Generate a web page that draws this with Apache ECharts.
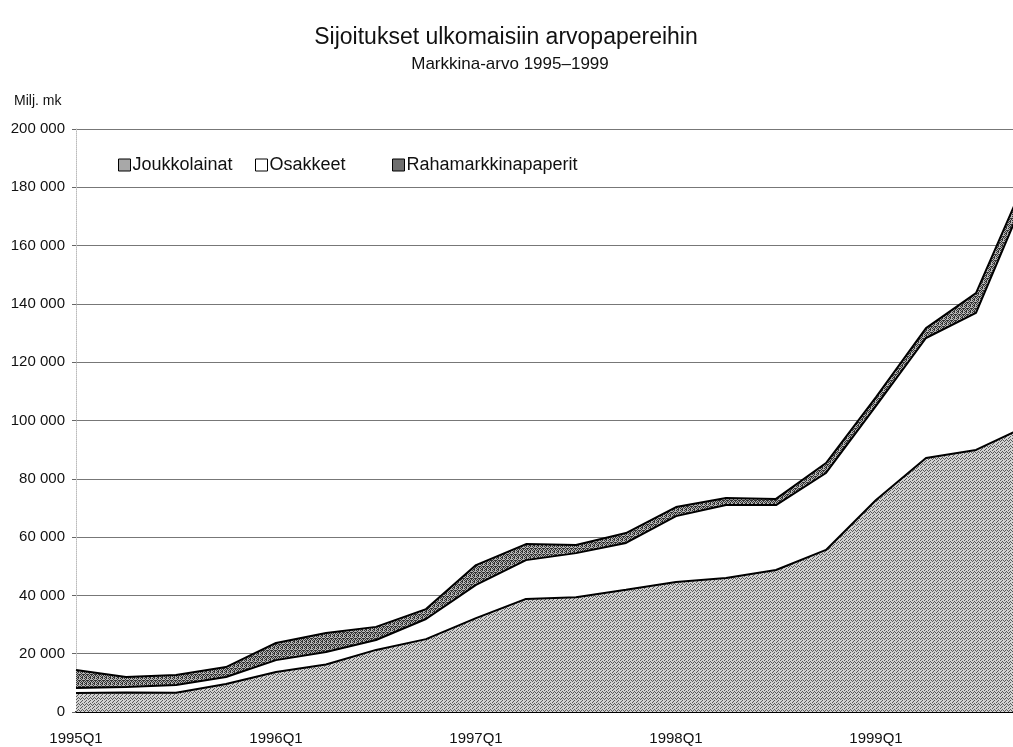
<!DOCTYPE html>
<html>
<head>
<meta charset="utf-8">
<script src="https://cdn.jsdelivr.net/npm/echarts@6/dist/echarts.min.js"></script>
<style>
html,body{margin:0;padding:0;background:#fff;overflow:hidden;}
#chart{width:1026px;height:747px;}
</style>
</head>
<body>
<div id="chart"></div>
<script>
// Data (Milj. mk)
const categories = ['1995Q1','1995Q2','1995Q3','1995Q4','1996Q1','1996Q2','1996Q3','1996Q4',
  '1997Q1','1997Q2','1997Q3','1997Q4','1998Q1','1998Q2','1998Q3','1998Q4',
  '1999Q1','1999Q2','1999Q3','1999Q4'];
const joukkolainat = [6500, 6700, 6600, 9600, 13700, 16300, 21300, 25000, 32200, 38800, 39400, 41900, 44600, 46000, 48700, 55600, 72700, 87100, 89900, 98000];
const osakkeet = [1700, 1900, 2700, 2400, 4100, 4300, 3400, 6900, 11400, 13300, 15100, 16100, 22600, 25000, 22300, 26400, 32300, 41200, 47000, 79500];
const rahamarkkinapaperit = [6200, 3400, 3400, 3400, 5900, 6500, 4500, 3400, 6800, 5500, 2800, 3400, 3100, 2400, 2100, 3400, 3000, 3400, 6800, 5500];
const seriesNames = ['Joukkolainat', 'Osakkeet', 'Rahamarkkinapaperit'];
const yTicks = { min: 0, max: 200000, interval: 20000 };

function makePattern(rows, dark, light) {
  const c = document.createElement('canvas');
  c.width = rows[0].length; c.height = rows.length;
  const ctx = c.getContext('2d');
  rows.forEach((r, y) => {
    for (let x = 0; x < r.length; x++) {
      ctx.fillStyle = r[x] === '1' ? dark : light;
      ctx.fillRect(x, y, 1, 1);
    }
  });
  return c;
}
const lightPat = makePattern(['1000', '0010', '0101', '1000', '0010', '0100'], '#5a5a5a', '#d2d2d2');
const darkPat = makePattern(['1010', '0100', '1011', '0101', '1010', '0110'], '#333333', '#b4b4b4');

const fmt = v => String(v).replace(/\B(?=(\d{3})+(?!\d))/g, ' ');
const FONT = 'Liberation Sans, Arial, sans-serif';

const chart = echarts.init(document.getElementById('chart'));
const lineStyle = { color: '#000', width: 2 };
const legendText = { fontSize: 18, color: '#111', fontFamily: FONT, padding: [0, 0, 0, -3] };
const legendBase = { top: 151, orient: 'horizontal', itemWidth: 12, itemHeight: 12, icon: 'rect', textStyle: legendText };
chart.setOption({
  backgroundColor: '#fff',
  animation: false,
  textStyle: { fontFamily: FONT },
  title: [
    { text: 'Sijoitukset ulkomaisiin arvopapereihin', left: 501, textAlign: 'center', top: 21,
      textStyle: { fontSize: 23, fontWeight: 'normal', color: '#111', fontFamily: FONT } },
    { text: 'Markkina-arvo 1995–1999', left: 505, textAlign: 'center', top: 51,
      textStyle: { fontSize: 17, fontWeight: 'normal', color: '#111', fontFamily: FONT } },
    { text: 'Milj. mk', left: 9, top: 89,
      textStyle: { fontSize: 14, fontWeight: 'normal', color: '#111', fontFamily: FONT } }
  ],
  legend: [
    Object.assign({ left: 113, data: [{ name: seriesNames[0], itemStyle: { color: '#a8a8a8', borderColor: '#000', borderWidth: 1 } }] }, legendBase),
    Object.assign({ left: 250, data: [{ name: seriesNames[1], itemStyle: { color: '#fff', borderColor: '#000', borderWidth: 1 } }] }, legendBase),
    Object.assign({ left: 387, data: [{ name: seriesNames[2], itemStyle: { color: '#6e6e6e', borderColor: '#000', borderWidth: 1 } }] }, legendBase)
  ],
  grid: { left: 76, right: 0, top: 129, bottom: 35, containLabel: false },
  xAxis: {
    type: 'category',
    data: categories,
    boundaryGap: false,
    axisLine: { lineStyle: { color: '#000', width: 2 } },
    axisTick: { show: false },
    axisLabel: { interval: 3, color: '#111', fontSize: 15, margin: 19, fontFamily: FONT },
    splitLine: { show: false }
  },
  yAxis: {
    type: 'value',
    min: yTicks.min, max: yTicks.max, interval: yTicks.interval,
    axisLine: { show: true, lineStyle: { color: '#bbb', width: 1, type: 'dotted' } },
    axisTick: { show: true, length: 4, lineStyle: { color: '#666' } },
    axisLabel: { color: '#111', fontSize: 15, margin: 11, formatter: fmt, fontFamily: FONT },
    splitLine: { show: true, lineStyle: { color: '#777', width: 1 } }
  },
  series: [
    { name: seriesNames[0], type: 'line', stack: 'total', data: joukkolainat,
      symbol: 'none', lineStyle: lineStyle,
      itemStyle: { color: '#a8a8a8' },
      areaStyle: { color: { image: lightPat, repeat: 'repeat' }, opacity: 1 } },
    { name: seriesNames[1], type: 'line', stack: 'total', data: osakkeet,
      symbol: 'none', lineStyle: lineStyle,
      itemStyle: { color: '#fff' },
      areaStyle: { color: '#fff', opacity: 1 } },
    { name: seriesNames[2], type: 'line', stack: 'total', data: rahamarkkinapaperit,
      symbol: 'none', lineStyle: lineStyle,
      itemStyle: { color: '#6e6e6e' },
      areaStyle: { color: { image: darkPat, repeat: 'repeat' }, opacity: 1 } }
  ]
});
</script>
</body>
</html>
